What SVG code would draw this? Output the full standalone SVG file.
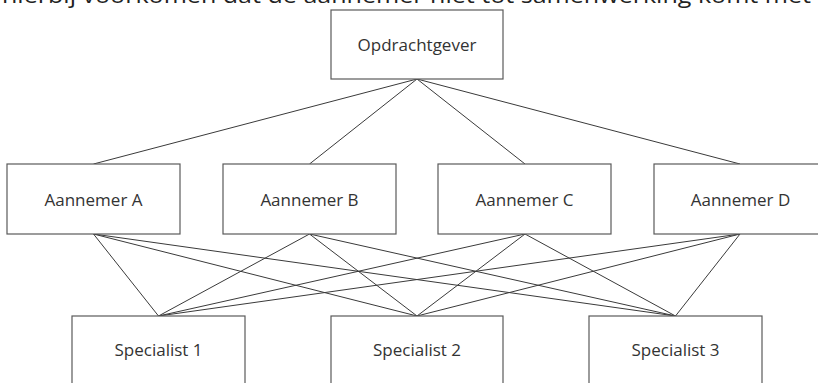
<svg xmlns="http://www.w3.org/2000/svg" width="818" height="383" viewBox="0 0 818 383">
  <style>
    .box { fill: #ffffff; stroke: #5a5a5a; stroke-width: 1.2; }
    .label { font-family: "Open Sans", "Noto Sans", "DejaVu Sans", sans-serif; font-size: 17px; fill: #333333; text-anchor: middle; }
    .caption { font-family: "Open Sans", "Noto Sans", "DejaVu Sans", sans-serif; font-size: 22px; fill: #222222; }
    .link { stroke: #3a3a3a; stroke-width: 1; fill: none; }
  </style>

  <!-- running text above the chart, cut off by the top edge -->
  <text class="caption" x="2" y="3" textLength="809" lengthAdjust="spacingAndGlyphs">hierbij voorkomen dat de aannemer niet tot samenwerking komt met</text>

  <!-- connectors -->
  <g id="connectors">
    <line class="link" x1="417" y1="79" x2="93.5" y2="164"/>
    <line class="link" x1="417" y1="79" x2="309.5" y2="164"/>
    <line class="link" x1="417" y1="79" x2="525" y2="164"/>
    <line class="link" x1="417" y1="79" x2="740" y2="164"/>

    <line class="link" x1="93.5" y1="234" x2="158.5" y2="316"/>
    <line class="link" x1="93.5" y1="234" x2="417" y2="316"/>
    <line class="link" x1="93.5" y1="234" x2="675.5" y2="316"/>

    <line class="link" x1="309.5" y1="234" x2="158.5" y2="316"/>
    <line class="link" x1="309.5" y1="234" x2="417" y2="316"/>
    <line class="link" x1="309.5" y1="234" x2="675.5" y2="316"/>

    <line class="link" x1="525" y1="234" x2="158.5" y2="316"/>
    <line class="link" x1="525" y1="234" x2="417" y2="316"/>
    <line class="link" x1="525" y1="234" x2="675.5" y2="316"/>

    <line class="link" x1="740" y1="234" x2="158.5" y2="316"/>
    <line class="link" x1="740" y1="234" x2="417" y2="316"/>
    <line class="link" x1="740" y1="234" x2="675.5" y2="316"/>
  </g>

  <g id="opdrachtgever">
    <rect class="box" x="331" y="10" width="172" height="69"/>
    <text class="label" x="417" y="50.5">Opdrachtgever</text>
  </g>

  <g id="aannemer-a">
    <rect class="box" x="7" y="164" width="173" height="70"/>
    <text class="label" x="93.5" y="205.5">Aannemer A</text>
  </g>
  <g id="aannemer-b">
    <rect class="box" x="223" y="164" width="173" height="70"/>
    <text class="label" x="309.5" y="205.5">Aannemer B</text>
  </g>
  <g id="aannemer-c">
    <rect class="box" x="438" y="164" width="173" height="70"/>
    <text class="label" x="524.5" y="205.5">Aannemer C</text>
  </g>
  <g id="aannemer-d">
    <rect class="box" x="654" y="164" width="173" height="70"/>
    <text class="label" x="740.5" y="205.5">Aannemer D</text>
  </g>

  <g id="specialist-1">
    <rect class="box" x="72" y="316" width="173" height="70"/>
    <text class="label" x="158.5" y="356">Specialist 1</text>
  </g>
  <g id="specialist-2">
    <rect class="box" x="331" y="316" width="172" height="70"/>
    <text class="label" x="417" y="356">Specialist 2</text>
  </g>
  <g id="specialist-3">
    <rect class="box" x="589" y="316" width="173" height="70"/>
    <text class="label" x="675.5" y="356">Specialist 3</text>
  </g>
</svg>
